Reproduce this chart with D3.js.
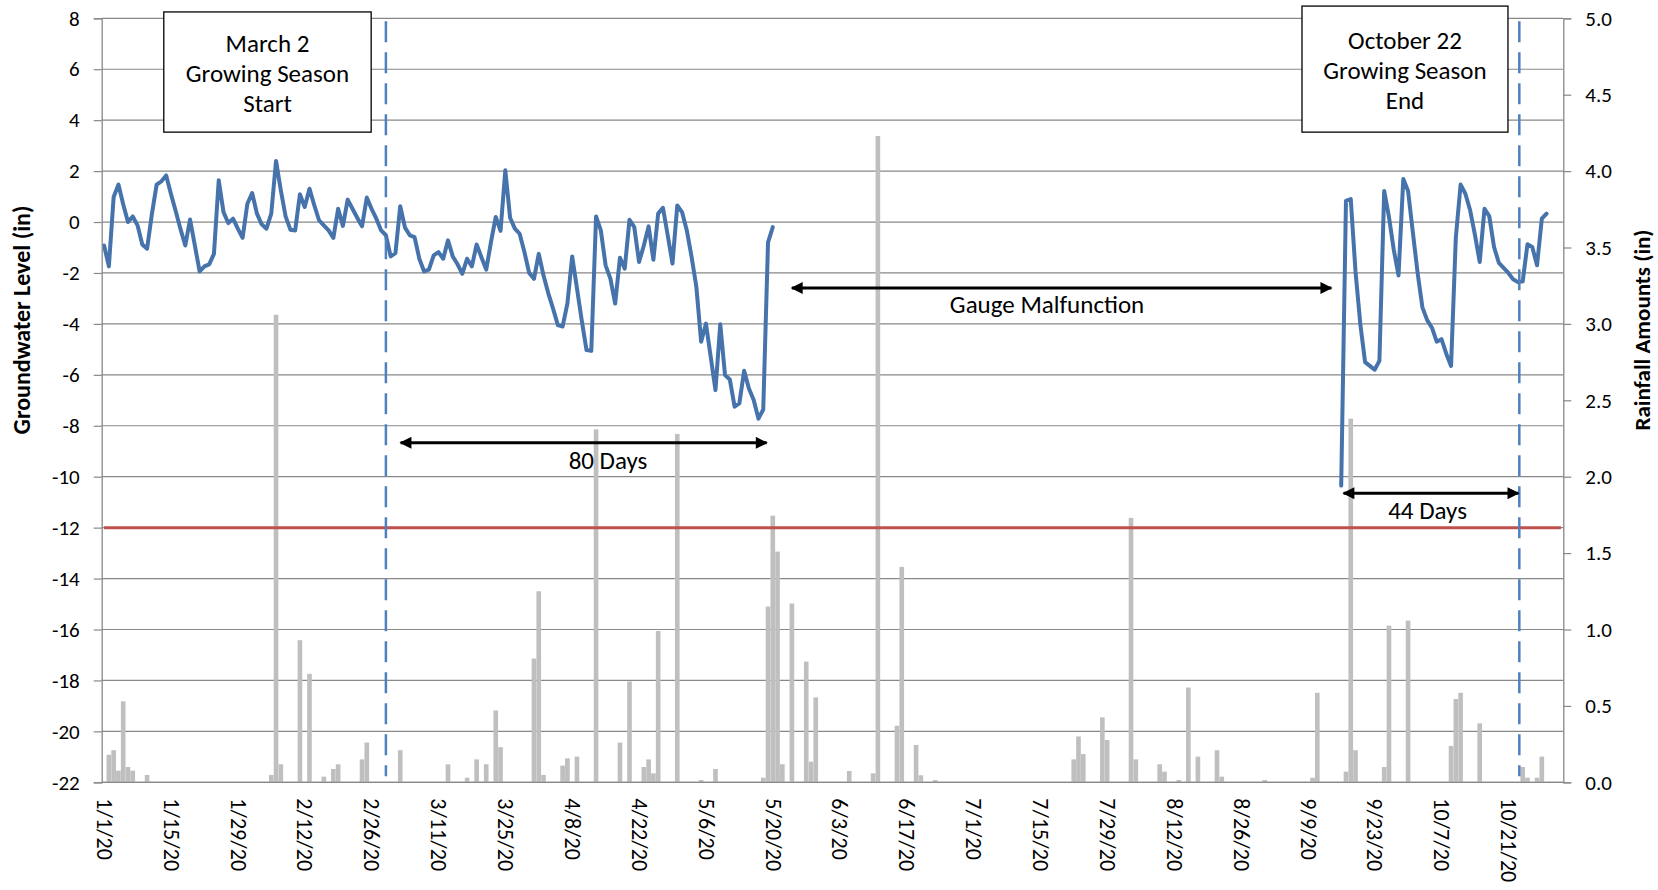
<!DOCTYPE html>
<html><head><meta charset="utf-8">
<script src="https://cdn.jsdelivr.net/npm/d3@7"></script>
<style>
body{margin:0;background:#fff;}
svg{display:block;font-family:Carlito, Calibri, Lato, sans-serif;}
</style></head><body>
<svg id="chart" width="1658" height="890"></svg>
<script>
// ---------------- DATA ----------------
// Groundwater level (in), daily, first record segment starting 1/1/20
const gwSeg1Start = "2020-01-01";
const gwSeg1 = [
 -0.92,-1.74,0.98,1.47,0.7,0.0,0.22,-0.13,-0.88,-1.05,
 0.3,1.47,1.6,1.83,1.1,0.42,-0.28,-0.92,0.1,-0.92,
 -1.94,-1.74,-1.66,-1.25,1.64,0.39,-0.04,0.13,-0.26,-0.62,
 0.72,1.14,0.33,-0.09,-0.26,0.33,2.40,1.25,0.22,-0.30,
 -0.33,1.09,0.59,1.31,0.66,0.07,-0.13,-0.33,-0.62,0.52,
 -0.15,0.88,0.52,0.17,-0.17,0.96,0.52,0.13,-0.33,-0.52,
 -1.35,-1.22,0.62,-0.22,-0.52,-0.59,-1.44,-1.94,-1.87,-1.31,
 -1.18,-1.44,-0.72,-1.35,-1.66,-2.03,-1.44,-1.74,-0.88,-1.38,
 -1.87,-0.79,0.2,-0.35,2.03,0.17,-0.26,-0.46,-1.18,-2.0,
 -2.23,-1.25,-2.1,-2.8,-3.4,-4.05,-4.1,-3.2,-1.35,-2.6,
 -3.86,-5.03,-5.06,0.22,-0.33,-1.7,-2.22,-3.2,-1.4,-1.83,
 0.09,-0.2,-1.57,-0.92,-0.17,-1.48,0.33,0.56,-0.52,-1.63,
 0.65,0.39,-0.33,-1.37,-2.55,-4.7,-3.99,-5.29,-6.6,-4.01,
 -6.01,-6.18,-7.25,-7.12,-5.84,-6.54,-6.99,-7.72,-7.36,-0.8,
 -0.2
];
// Second record segment after the gauge malfunction, starting 9/16/20
const gwSeg2Start = "2020-09-16";
const gwSeg2 = [
 -10.35,0.83,0.9,-1.95,-4.0,-5.5,-5.65,-5.8,-5.45,1.22,
 0.2,-1.08,-2.1,1.69,1.22,-0.4,-2.0,-3.35,-3.85,-4.15,
 -4.7,-4.6,-5.17,-5.65,-0.6,1.47,1.11,0.46,-0.5,-1.57,
 0.52,0.23,-0.98,-1.6,-1.8,-2.0,-2.25,-2.36,-2.33,-0.87,
 -0.98,-1.7,0.13,0.33
];
// Daily rainfall (in), days with measurable rain
const rainDates = [
 "2020-01-02","2020-01-03","2020-01-04","2020-01-05","2020-01-06","2020-01-07","2020-01-10",
 "2020-02-05","2020-02-06","2020-02-07","2020-02-11","2020-02-13","2020-02-16","2020-02-18",
 "2020-02-19","2020-02-24","2020-02-25","2020-03-03","2020-03-13","2020-03-17","2020-03-19",
 "2020-03-21","2020-03-23","2020-03-24","2020-03-31","2020-04-01","2020-04-02","2020-04-06",
 "2020-04-07","2020-04-09","2020-04-13","2020-04-18","2020-04-20","2020-04-23","2020-04-24",
 "2020-04-25","2020-04-26","2020-04-30","2020-05-05","2020-05-08","2020-05-18","2020-05-19",
 "2020-05-20","2020-05-21","2020-05-22","2020-05-24","2020-05-27","2020-05-28","2020-05-29",
 "2020-06-05","2020-06-10","2020-06-11","2020-06-15","2020-06-16","2020-06-19","2020-06-20",
 "2020-06-23","2020-07-22","2020-07-23","2020-07-24","2020-07-28","2020-07-29","2020-08-03",
 "2020-08-04","2020-08-09","2020-08-10","2020-08-13","2020-08-15","2020-08-17","2020-08-21",
 "2020-08-22","2020-08-31","2020-09-10","2020-09-11","2020-09-17","2020-09-18","2020-09-19",
 "2020-09-25","2020-09-26","2020-09-30","2020-10-09","2020-10-10","2020-10-11","2020-10-15",
 "2020-10-24","2020-10-25","2020-10-27","2020-10-28"
];
const rainValues = [
 0.18,0.21,0.076,0.53,0.10,0.076,0.048,
 0.048,3.06,0.118,0.93,0.71,0.037,0.087,
 0.118,0.15,0.26,0.21,0.118,0.03,0.15,
 0.118,0.47,0.23,0.81,1.25,0.048,0.109,
 0.157,0.168,2.31,0.26,0.66,0.10,0.15,
 0.059,0.99,2.28,0.015,0.087,0.03,1.15,
 1.745,1.51,0.118,1.17,0.79,0.135,0.556,
 0.074,0.059,4.23,0.37,1.41,0.244,0.046,
 0.015,0.15,0.30,0.185,0.425,0.277,1.73,
 0.15,0.118,0.07,0.015,0.62,0.168,0.21,
 0.037,0.015,0.03,0.586,0.07,2.38,0.21,
 0.10,1.025,1.058,0.238,0.545,0.586,0.386,
 0.10,0.03,0.03,0.168
];
const thresholdLevel = -12;
const axisFirstDay = "2020-01-01";
const axisLastDay = "2020-11-01";
const leftTicks = [8,6,4,2,0,-2,-4,-6,-8,-10,-12,-14,-16,-18,-20,-22];
const rightTicks = [0,0.5,1,1.5,2,2.5,3,3.5,4,4.5,5];
const dateTickLabels = ["1/1/20","1/15/20","1/29/20","2/12/20","2/26/20","3/11/20","3/25/20",
 "4/8/20","4/22/20","5/6/20","5/20/20","6/3/20","6/17/20","7/1/20","7/15/20","7/29/20",
 "8/12/20","8/26/20","9/9/20","9/23/20","10/7/20","10/21/20"];
// annotations (data coordinates: date, groundwater level)
const seasonMarkers = ["2020-02-29T00:00","2020-10-23T07:00"];
const seasonBoxes = [
 {from:"2020-01-13T12:00", to:"2020-02-25T22:00", top:8.25, bottom:3.53, lines:["March 2","Growing Season","Start"]},
 {from:"2020-09-07T19:00", to:"2020-10-20T22:00", top:8.48, bottom:3.53, lines:["October 22","Growing Season","End"]}
];
const spanArrows = [
 {from:"2020-03-03T02:00", to:"2020-05-18T17:00", level:-8.67, label:"80 Days", labelAt:"2020-04-15T12:00", labelLevel:-9.69},
 {from:"2020-05-24T00:00", to:"2020-09-13T22:00", level:-2.59, label:"Gauge Malfunction", labelAt:"2020-07-16T10:00", labelLevel:-3.57},
 {from:"2020-09-16T12:00", to:"2020-10-23T02:00", level:-10.65, label:"44 Days", labelAt:"2020-10-04T02:00", labelLevel:-11.68}
];

// ---------------- CHART ----------------
const W = 1658, H = 890;
const plot = {left:101.7, right:1563.3, top:18.3, bottom:782.3};
const parse = d3.utcParse("%Y-%m-%d");
const parseT = d3.utcParse("%Y-%m-%dT%H:%M");
const parseTick = d3.utcParse("%m/%d/%y");
const DAY = 864e5;

const x = d3.scaleUtc()
  .domain([new Date(+parse(axisFirstDay) - DAY/2), new Date(+parse(axisLastDay) + DAY/2)])
  .range([plot.left, plot.right]);
const step = x(new Date(+parse(axisFirstDay)+DAY)) - x(parse(axisFirstDay));
const yL = d3.scaleLinear().domain([-22, 8]).range([plot.bottom, plot.top]);
const yR = d3.scaleLinear().domain([0, 5]).range([plot.bottom, plot.top]);

const svg = d3.select("#chart");
svg.append("rect").attr("width", W).attr("height", H).attr("fill", "#fff");

const gridColor = "#888888";
const fontFam = "Carlito, Calibri, Lato, sans-serif";
// horizontal gridlines
svg.append("g").selectAll("line").data(leftTicks).join("line")
  .attr("x1", plot.left).attr("x2", plot.right)
  .attr("y1", d => yL(d)).attr("y2", d => yL(d))
  .attr("stroke", gridColor).attr("stroke-width", 1.2);

// rainfall bars (secondary axis)
const rain = rainDates.map((d, i) => ({date: parse(d), v: rainValues[i]}));
const bw = step * 0.97;
svg.append("g").selectAll("rect").data(rain).join("rect")
  .attr("x", d => x(d.date) - bw/2)
  .attr("width", bw)
  .attr("y", d => yR(d.v))
  .attr("height", d => yR(0) - yR(d.v))
  .attr("fill", "#BFBFBF");

// threshold line
svg.append("line")
  .attr("x1", x(parse(axisFirstDay))).attr("x2", x(parse(axisLastDay)))
  .attr("y1", yL(thresholdLevel)).attr("y2", yL(thresholdLevel))
  .attr("stroke", "#C0504D").attr("stroke-width", 3);

// groundwater line
function seg(start, vals){
  const s = parse(start);
  return vals.map((v, i) => ({date: new Date(+s + i*DAY), v}));
}
const line = d3.line().x(d => x(d.date)).y(d => yL(d.v));
[seg(gwSeg1Start, gwSeg1), seg(gwSeg2Start, gwSeg2)].forEach(s => {
  svg.append("path").datum(s).attr("d", line)
    .attr("fill", "none").attr("stroke", "#4673AB").attr("stroke-width", 4)
    .attr("stroke-linejoin", "round").attr("stroke-linecap", "round");
});

// axes
const axL = svg.append("g").attr("transform", `translate(${plot.left},0)`)
  .call(d3.axisLeft(yL).tickValues(leftTicks).tickSize(8).tickPadding(14).tickFormat(d => String(d)));
const axR = svg.append("g").attr("transform", `translate(${plot.right},0)`)
  .call(d3.axisRight(yR).tickValues(rightTicks).tickSize(8).tickPadding(14).tickFormat(d => d.toFixed(1)));
const axB = svg.append("g").attr("transform", `translate(0,${plot.bottom})`)
  .call(d3.axisBottom(x).tickValues(dateTickLabels.map(parseTick)).tickSize(0)
        .tickFormat((d, i) => dateTickLabels[i]));
[axL, axR, axB].forEach(g => {
  g.select(".domain").attr("stroke", gridColor).attr("stroke-width", 1.3);
  g.selectAll(".tick line").attr("stroke", gridColor).attr("stroke-width", 1.2);
  g.selectAll("text").attr("fill", "#000").style("font-family", fontFam);
});
axL.selectAll("text").style("font-size", "21px");
axR.selectAll("text").style("font-size", "21px");
axB.selectAll(".tick text")
  .style("font-size", "22px")
  .attr("text-anchor", "start")
  .attr("y", 0).attr("dy", "0.35em")
  .attr("transform", "translate(0,16) rotate(90)");
axB.select(".domain").attr("d", `M${plot.left},0H${plot.right}`);

// axis titles
svg.append("text").attr("transform", `translate(21.5,320) rotate(-90)`)
  .attr("text-anchor", "middle").attr("dominant-baseline", "central")
  .style("font-size", "24px").style("font-weight", "bold").text("Groundwater Level (in)");
svg.append("text").attr("transform", `translate(1642,330) rotate(-90)`)
  .attr("text-anchor", "middle").attr("dominant-baseline", "central")
  .style("font-size", "23px").style("font-weight", "bold").text("Rainfall Amounts (in)");

// growing season markers
svg.append("g").selectAll("line").data(seasonMarkers).join("line")
  .attr("x1", d => x(parseT(d))).attr("x2", d => x(parseT(d)))
  .attr("y1", plot.top + 3).attr("y2", plot.bottom - 6)
  .attr("stroke", "#4F81BD").attr("stroke-width", 2.5)
  .attr("stroke-dasharray", "21,10");

// boxes
const boxG = svg.append("g").selectAll("g").data(seasonBoxes).join("g");
boxG.append("rect")
  .attr("x", d => x(parseT(d.from))).attr("y", d => yL(d.top))
  .attr("width", d => x(parseT(d.to)) - x(parseT(d.from)))
  .attr("height", d => yL(d.bottom) - yL(d.top))
  .attr("fill", "#fff").attr("stroke", "#000").attr("stroke-width", 1.3);
boxG.each(function(d){
  const cx = (x(parseT(d.from)) + x(parseT(d.to))) / 2;
  const cy = (yL(d.top) + yL(d.bottom)) / 2;
  d3.select(this).selectAll("text").data(d.lines).join("text")
    .attr("x", cx).attr("y", (t, i) => cy + (i - 1) * 30 + 10)
    .attr("text-anchor", "middle").style("font-size", "25px").text(t => t);
});

// arrows
const defs = svg.append("defs");
defs.append("marker").attr("id", "ah").attr("viewBox", "0 0 10 10")
  .attr("refX", 9).attr("refY", 5).attr("markerWidth", 4.5).attr("markerHeight", 4)
  .attr("markerUnits", "strokeWidth").attr("orient", "auto-start-reverse")
  .append("path").attr("d", "M0,0L10,5L0,10z").attr("fill", "#000");
const arG = svg.append("g").selectAll("g").data(spanArrows).join("g");
arG.append("line")
  .attr("x1", d => x(parseT(d.from))).attr("x2", d => x(parseT(d.to)))
  .attr("y1", d => yL(d.level)).attr("y2", d => yL(d.level))
  .attr("stroke", "#000").attr("stroke-width", 3)
  .attr("marker-start", "url(#ah)").attr("marker-end", "url(#ah)");
arG.append("text")
  .attr("x", d => x(parseT(d.labelAt))).attr("y", d => yL(d.labelLevel))
  .attr("text-anchor", "middle").style("font-size", "25px").text(d => d.label);
</script>
</body></html>
